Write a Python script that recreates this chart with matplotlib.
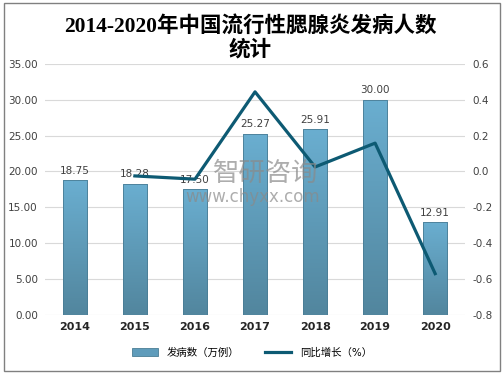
import numpy as np
import matplotlib.pyplot as plt
from matplotlib.colors import LinearSegmentedColormap
from matplotlib.patches import Rectangle, Patch
from matplotlib.lines import Line2D

plt.rcParams['font.family'] = ['DejaVu Sans', 'Noto Sans CJK SC']

# 数据
years = ['2014', '2015', '2016', '2017', '2018', '2019', '2020']
cases = [18.75, 18.28, 17.50, 25.27, 25.91, 30.00, 12.91]  # 发病数（万例）
growth = [None, -0.025, -0.043, 0.444, 0.025, 0.158, -0.570]  # 同比增长
title = '2014-2020年中国流行性腮腺炎发病人数\n统计'

fig = plt.figure(figsize=(5.04, 3.78), dpi=100)
ax = fig.add_axes([0.089, 0.167, 0.834, 0.664])
ax2 = ax.twinx()

x = np.arange(len(years))
bars = ax.bar(x, cases, width=0.4, color='#62a4c6', edgecolor='#4a7d95', linewidth=0.6, zorder=2)

# 柱子渐变
cmap = LinearSegmentedColormap.from_list('g', ['#52869e', '#6aaed0'])
grad = np.linspace(0, 1, 100).reshape(-1, 1)
for b in bars:
    bx, bw, bh = b.get_x(), b.get_width(), b.get_height()
    im = ax.imshow(grad, cmap=cmap, origin='lower', aspect='auto',
                   extent=(bx, bx + bw, 0, bh), zorder=2.5)
    im.set_clip_path(Rectangle((bx, 0), bw, bh, transform=ax.transData))
    ax.add_patch(Rectangle((bx, 0), bw, bh, fill=False, edgecolor='#4a7d95',
                           linewidth=0.6, zorder=2.6))
    ax.text(bx + bw / 2, bh + 0.6, f'{bh:.2f}', ha='center', va='bottom',
            fontsize=7.5, color='#404040', zorder=3)

ax.set_xlim(-0.5, len(years) - 0.5)
ax.set_ylim(0, 35)
ax.set_yticks(np.arange(0, 36, 5))
ax.set_yticklabels([f'{v:.2f}' for v in np.arange(0, 36, 5)], fontsize=7.5, color='#404040')
ax.set_xticks(x)
ax.set_xticklabels(years, fontsize=8, fontweight='bold', color='#262626')
ax.tick_params(length=0, pad=5)
ax.grid(axis='y', color='#d9d9d9', linewidth=0.8, zorder=0)
ax.set_axisbelow(True)
for s in ax.spines.values():
    s.set_visible(False)

gx = x[1:]
gy = growth[1:]
ax2.plot(gx, gy, color='#0d5a73', linewidth=2.3, zorder=4)
ax2.set_ylim(-0.8, 0.6)
ax2.set_yticks(np.arange(-0.8, 0.61, 0.2))
ax2.set_yticklabels([f'{v:.1f}' if abs(v) > 1e-9 else '0.0' for v in np.arange(-0.8, 0.61, 0.2)],
                    fontsize=7.5, color='#404040')
ax2.tick_params(length=0, pad=5)
for s in ax2.spines.values():
    s.set_visible(False)

# 标题
fig.text(0.497, 0.9, title, ha='center', va='center', fontsize=15.5, fontweight='bold',
         family=['Liberation Serif', 'Noto Sans CJK SC'], linespacing=1.2)

# 水印
fig.text(0.528, 0.54, '智研咨询', ha='center', va='center', fontsize=19,
         family=['Noto Sans CJK SC'], color='#8a8a8a', alpha=0.7, zorder=10)
fig.text(0.502, 0.479, 'www.chyxx.com', ha='center', va='center', fontsize=12,
         color='#8a8a8a', alpha=0.7, zorder=10)

# 图例
handles = [Patch(facecolor='#5f9cbb', edgecolor='#4a7d95', linewidth=0.6),
           Line2D([0], [0], color='#0d5a73', linewidth=2.3)]
fig.legend(handles, ['发病数（万例）', '同比增长（%）'], loc='center', ncol=2,
           bbox_to_anchor=(0.5, 0.067), frameon=False,
           handlelength=2.5, handleheight=0.8, columnspacing=2.5,
           prop={'family': ['DejaVu Sans', 'Noto Sans CJK SC'], 'size': 7.5})

# 外框
fig.add_artist(Rectangle((0.008, 0.018), 0.984, 0.973, transform=fig.transFigure,
                         fill=False, edgecolor='#808080', linewidth=1.0))

fig.savefig('out.png', dpi=100)
